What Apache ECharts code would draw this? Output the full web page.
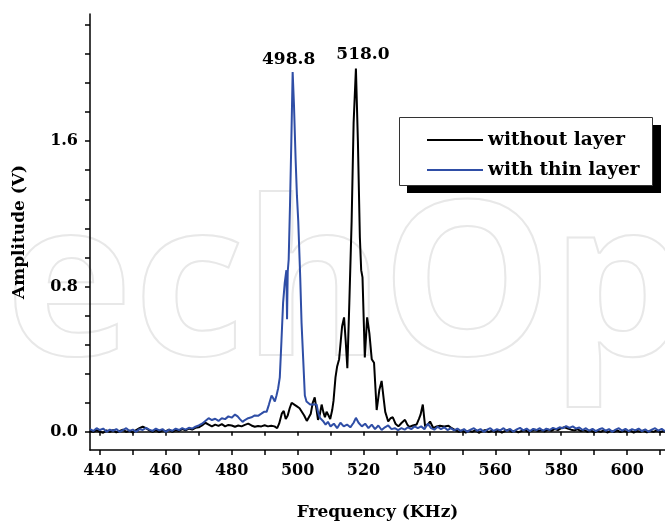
<!DOCTYPE html>
<html>
<head>
<meta charset="utf-8">
<script src="https://cdn.jsdelivr.net/npm/echarts@6/dist/echarts.min.js"></script>
<style>
html,body{margin:0;padding:0;background:#fff;}
#chart{width:665px;height:527px;}
</style>
</head>
<body>
<div id="chart"></div>
<script>
// frequency (KHz), amplitude (V)
var withoutLayer = [
 [437,0.005],[438,0.0],[439,0.01],[440,0.0],[441,-0.005],[442,0.008],[443,0.0],[444,0.01],[445,-0.003],[446,0.005],
 [447,0.012],[448,0.0],[449,0.006],[450,-0.004],[451,0.01],[452,0.02],[453,0.028],[454,0.02],[455,0.008],[456,0.0],
 [457,0.01],[458,-0.002],[459,0.008],[460,0.004],[461,0.012],[462,0.0],[463,0.01],[464,0.005],[465,0.015],[466,0.008],
 [467,0.018],[468,0.012],[469,0.022],[470,0.025],[471,0.035],[472,0.05],[473,0.04],[474,0.03],[475,0.04],[476,0.033],
 [477,0.042],[478,0.03],[479,0.038],[480,0.035],[481,0.028],[482,0.035],[483,0.03],[484,0.038],[485,0.045],[486,0.035],
 [487,0.028],[488,0.032],[489,0.03],[490,0.036],[491,0.03],[492,0.034],[493,0.03],[493.8,0.02],[494.4,0.045],[495.2,0.1],
 [495.8,0.115],[496.4,0.07],[497,0.09],[497.6,0.13],[498.2,0.16],[499,0.15],[499.8,0.14],[500.6,0.13],[501.2,0.12],[502,0.09],
 [502.8,0.06],[503.4,0.055],[504,0.1],[504.6,0.16],[505.2,0.19],[505.6,0.14],[506.2,0.066],[506.8,0.1],[507.3,0.15],[507.8,0.11],
 [508.3,0.08],[508.8,0.11],[509.4,0.09],[509.9,0.07],[510.5,0.12],[510.9,0.17],[511.5,0.3],[512,0.36],[512.6,0.4],[513.1,0.5],
 [513.5,0.58],[514.1,0.63],[514.6,0.5],[515.1,0.35],[515.7,0.71],[516.4,1.16],[517.0,1.7],[517.7,2.0],[518.3,1.6],[518.9,1.07],
 [519.3,0.89],[519.7,0.85],[520.4,0.41],[521.1,0.63],[521.8,0.54],[522.5,0.4],[523.2,0.38],[524,0.12],[524.8,0.23],[525.5,0.28],
 [526.2,0.17],[526.6,0.11],[527.5,0.057],[528.2,0.075],[528.9,0.08],[529.7,0.045],[530.6,0.03],[531.6,0.05],[532.6,0.066],[533.3,0.04],
 [533.9,0.027],[535,0.035],[536.1,0.04],[536.8,0.07],[537.3,0.093],[538,0.15],[538.7,0.03],[539.5,0.04],[540.2,0.057],[541.2,0.02],
 [542.2,0.03],[543.2,0.033],[544.5,0.03],[545.8,0.033],[546.8,0.02],[547.8,0.01],[549,0.0],[550,0.008],[551,-0.004],[552,0.006],
 [553,0.0],[554,0.01],[555,-0.005],[556,0.004],[557,0.01],[558,-0.002],[559,0.006],[560,0.0],[561,0.008],[562,-0.004],
 [563,0.005],[564,0.012],[565,0.0],[566,0.007],[567,-0.003],[568,0.005],[569,0.01],[570,0.0],[571,0.006],[572,0.012],
 [573,0.004],[574,0.01],[575,0.002],[576,0.012],[577,0.006],[578,0.015],[579,0.01],[580,0.02],[581,0.025],[582,0.018],
 [583,0.012],[584,0.008],[585,0.014],[586,0.004],[587,0.01],[588,0.0],[589,0.008],[590,-0.003],[591,0.006],[592,0.0],
 [593,0.01],[594,-0.004],[595,0.006],[596,0.0],[597,0.008],[598,-0.002],[599,0.006],[600,0.0],[601,0.008],[602,-0.004],
 [603,0.005],[604,0.0],[605,0.008],[606,-0.003],[607,0.006],[608,0.0],[609,0.008],[610,-0.002],[611,0.005],[612,0.0]
];

var withThinLayer = [
 [437,0.015],[438,0.005],[439,0.02],[440,0.01],[441,0.018],[442,0.0],[443,0.012],[444,0.006],[445,0.015],[446,0.0],
 [447,0.01],[448,0.02],[449,0.005],[450,0.012],[451,0.0],[452,0.015],[453,0.01],[454,0.022],[455,0.012],[456,0.005],
 [457,0.018],[458,0.008],[459,0.015],[460,0.0],[461,0.012],[462,0.006],[463,0.018],[464,0.01],[465,0.02],[466,0.012],
 [467,0.022],[468,0.018],[469,0.028],[470,0.035],[471,0.045],[472,0.06],[473,0.075],[474,0.065],[475,0.072],[476,0.06],
 [477,0.075],[478,0.07],[479,0.085],[480,0.078],[481,0.095],[481.8,0.085],[482.5,0.07],[483.3,0.055],[484,0.065],[485,0.075],
 [486,0.08],[487,0.09],[488,0.088],[489,0.1],[489.8,0.11],[490.6,0.11],[491.3,0.15],[492.1,0.2],[492.6,0.185],[493.1,0.167],
 [493.6,0.2],[494.1,0.24],[494.6,0.3],[495.1,0.5],[495.6,0.71],[496.1,0.82],[496.6,0.89],[496.8,0.62],[497.0,0.88],[497.3,0.95],
 [497.7,1.25],[498.1,1.6],[498.5,1.98],[498.9,1.8],[499.4,1.5],[499.8,1.3],[500.2,1.16],[500.8,0.85],[501.2,0.6],[501.7,0.4],
 [502.2,0.2],[502.7,0.167],[503.3,0.16],[503.8,0.15],[504.4,0.16],[505,0.15],[505.8,0.15],[506.2,0.11],[506.8,0.077],[507.7,0.06],
 [508.5,0.04],[509.2,0.055],[510,0.03],[511,0.045],[512,0.02],[513,0.05],[514,0.03],[515,0.04],[516,0.025],[517,0.05],
 [517.7,0.077],[518.5,0.05],[519.5,0.03],[520.5,0.045],[521.5,0.02],[522.5,0.04],[523.5,0.015],[524.5,0.035],[525.5,0.01],[526.5,0.025],
 [527.5,0.035],[528.5,0.015],[529.5,0.02],[530.5,0.01],[531.5,0.02],[532.5,0.012],[533.5,0.025],[534.5,0.015],[535.5,0.03],[536.5,0.02],
 [537.5,0.03],[538.5,0.015],[539.5,0.045],[540.5,0.02],[541.5,0.012],[542.5,0.028],[543.5,0.015],[544.5,0.025],[545.5,0.01],[546.5,0.02],
 [547.5,0.008],[548.5,0.018],[549.5,0.005],[550.5,0.015],[551.5,0.0],[552.5,0.012],[553.5,0.02],[554.5,0.006],[555.5,0.015],[556.5,0.0],
 [557.5,0.012],[558.5,0.02],[559.5,0.005],[560.5,0.015],[561.5,0.008],[562.5,0.02],[563.5,0.005],[564.5,0.016],[565.5,0.0],[566.5,0.014],
 [567.5,0.022],[568.5,0.008],[569.5,0.018],[570.5,0.004],[571.5,0.016],[572.5,0.01],[573.5,0.02],[574.5,0.006],[575.5,0.018],[576.5,0.01],
 [577.5,0.022],[578.5,0.015],[579.5,0.025],[580.5,0.02],[581.5,0.032],[582.5,0.022],[583.5,0.03],[584.5,0.018],[585.5,0.024],[586.5,0.01],
 [587.5,0.02],[588.5,0.006],[589.5,0.016],[590.5,0.004],[591.5,0.014],[592.5,0.02],[593.5,0.006],[594.5,0.015],[595.5,0.0],[596.5,0.012],
 [597.5,0.02],[598.5,0.006],[599.5,0.016],[600.5,0.004],[601.5,0.015],[602.5,0.008],[603.5,0.018],[604.5,0.004],[605.5,0.014],[606.5,0.0],
 [607.5,0.012],[608.5,0.02],[609.5,0.006],[610.5,0.016],[611.5,0.004]
];

var seriesNames = ['without layer', 'with thin layer'];
var peakLabels = ['518.0', '498.8'];
var xLabelTicks = [440, 460, 480, 500, 520, 540, 560, 580, 600];
var xMinorTicks = [440, 450, 460, 470, 480, 490, 500, 510, 520, 530, 540, 550, 560, 570, 580, 590, 600, 610];
var yLabelTicks = [0, 0.8, 1.6];
var yMinorTicks = [0, 0.16, 0.32, 0.48, 0.64, 0.8, 0.96, 1.12, 1.28, 1.44, 1.6, 1.76, 1.92, 2.08, 2.24];

var font = 'DejaVu Serif';
var chart = echarts.init(document.getElementById('chart'));

// faint watermark and the legend frame with its hard shadow
var wmStyle = { font: 'bold 215px "Noto Sans"', fill: 'rgba(0,0,0,0)', stroke: '#e8e8e8', lineWidth: 2, verticalAlign: 'middle' };
var graphics = [
	{ type: 'text', x: 384, y: 294, z: -10, silent: true, style: Object.assign({ text: 'Intech', align: 'right' }, wmStyle) },
	{ type: 'text', x: 382, y: 294, z: -10, silent: true, style: Object.assign({ text: 'Open', align: 'left' }, wmStyle) },
	{ type: 'rect', z: 5, silent: true, shape: { x: 407, y: 125, width: 254, height: 68 }, style: { fill: '#000' } },
	{ type: 'rect', z: 6, silent: true, shape: { x: 399.5, y: 117.5, width: 253, height: 68 }, style: { fill: '#fff', stroke: '#333', lineWidth: 1 } }
];

var option = {
	animation: false,
	backgroundColor: '#fff',
	graphic: graphics,
	grid: { left: 90, top: 14, right: 0, bottom: 77 },
	legend: {
		left: 399,
		top: 117,
		z: 10,
		orient: 'vertical',
		padding: [13, 10, 5, 27],
		itemGap: 10,
		itemWidth: 56,
		itemHeight: 14,
		itemStyle: { opacity: 0 },
		lineStyle: { width: 2 },
		textStyle: { fontFamily: font, fontWeight: 'bold', fontSize: 18.5, color: '#000', lineHeight: 20 },
		data: seriesNames
	},
	xAxis: [{
		type: 'value',
		min: 437,
		max: 611.5,
		name: 'Frequency (KHz)',
		nameLocation: 'middle',
		nameGap: 54,
		nameTextStyle: { fontFamily: font, fontWeight: 'bold', fontSize: 17, color: '#000' },
		axisLine: { show: true, onZero: false, lineStyle: { color: '#000', width: 1.5 } },
		axisTick: { show: true, length: 5, lineStyle: { color: '#000', width: 1.5 }, customValues: xMinorTicks },
		axisLabel: { margin: 13, fontFamily: font, fontWeight: 'bold', fontSize: 16, color: '#000', customValues: xLabelTicks },
		splitLine: { show: false }
	}, {
		type: 'value',
		position: 'top',
		min: 437,
		max: 611.5,
		axisLine: { show: true, lineStyle: { color: '#000', width: 1.5 } },
		axisTick: { show: true, inside: true, length: 4, lineStyle: { color: '#000', width: 1.5 }, customValues: xMinorTicks },
		axisLabel: { show: false },
		splitLine: { show: false }
	}],
	yAxis: {
		type: 'value',
		min: -0.1,
		max: 2.3,
		name: 'Amplitude (V)',
		nameLocation: 'middle',
		nameGap: 62,
		nameTextStyle: { fontFamily: font, fontWeight: 'bold', fontSize: 17, color: '#000' },
		axisLine: { show: true, onZero: false, lineStyle: { color: '#000', width: 1.5 } },
		axisTick: { show: true, length: 5, lineStyle: { color: '#000', width: 1.5 }, customValues: yMinorTicks },
		axisLabel: {
			margin: 12, fontFamily: font, fontWeight: 'bold', fontSize: 16, color: '#000',
			customValues: yLabelTicks,
			formatter: function (v) { return v.toFixed(1); }
		},
		splitLine: { show: false }
	},
	series: [{
		name: seriesNames[0],
		type: 'line',
		data: withoutLayer,
		symbol: 'none',
		z: 3,
		lineStyle: { color: '#000', width: 2 },
		itemStyle: { color: '#000' },
		markPoint: {
			symbol: 'circle', symbolSize: 0,
			label: { show: true, position: 'top', distance: 5, offset: [7, 0], fontFamily: font, fontWeight: 'bold', fontSize: 17, color: '#000', formatter: function () { return peakLabels[0]; } },
			data: [{ type: 'max' }]
		}
	}, {
		name: seriesNames[1],
		type: 'line',
		data: withThinLayer,
		symbol: 'none',
		z: 4,
		lineStyle: { color: '#2f4ea6', width: 2 },
		itemStyle: { color: '#2f4ea6' },
		markPoint: {
			symbol: 'circle', symbolSize: 0,
			label: { show: true, position: 'top', distance: 4, offset: [-4, 0], fontFamily: font, fontWeight: 'bold', fontSize: 17, color: '#000', formatter: function () { return peakLabels[1]; } },
			data: [{ type: 'max' }]
		}
	}]
};
chart.setOption(option);
</script>
</body>
</html>
